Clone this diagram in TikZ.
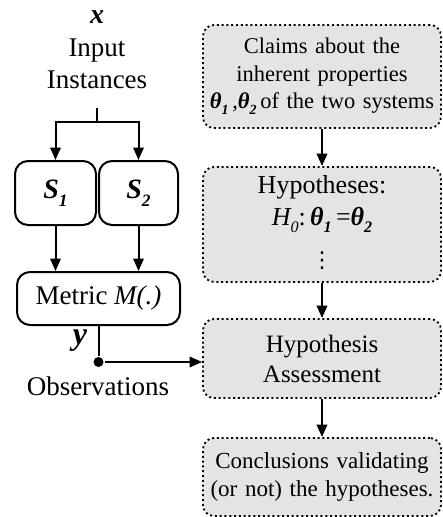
\documentclass[tikz,border=0pt]{standalone}
\usepackage{fontspec}
\setmainfont{Liberation Serif}
\newfontfamily\dejavu{DejaVu Sans}
\usetikzlibrary{arrows.meta}
\newcommand{\bfit}[1]{\textbf{\textit{#1}}}
\newcommand{\fs}[2]{\fontsize{#1}{#2}\selectfont}
\newcommand{\sub}[1]{\raisebox{-0.28em}{\fontsize{0.62em}{0.62em}\selectfont #1}}
\definecolor{boxgray}{HTML}{E4E4E4}
\begin{document}
\begin{tikzpicture}[x=1pt,y=-1pt,
  line width=2pt,
  arr/.style={-{Triangle[length=12.5pt,width=10.5pt]}},
  sysbox/.style={draw,rounded corners=13pt,fill=white,inner sep=0pt},
  hypbox/.style={draw,dash pattern=on 2pt off 2.8pt,line width=1.8pt,rounded corners=11pt,fill=boxgray,
     minimum width=238pt,inner sep=0pt,align=center,text width=236pt},
  lbl/.style={inner sep=0pt,align=center}]
\useasboundingbox (0,0) rectangle (442,517);
% left column
\node[lbl,font=\fs{28}{30}] (xlab) at (97,17) {\bfit{x}};
\node[lbl,font=\fs{27}{32}] (inp) at (97,64) {Input\\Instances};
\coordinate (stemtop) at (97,108);
\coordinate (split) at (97,122);
\node[sysbox,minimum width=81pt,minimum height=64pt,font=\fs{28}{30}] (s1) at (55.5,193) {\bfit{S\sub{1}}};
\node[sysbox,minimum width=79pt,minimum height=64pt,font=\fs{28}{30}] (s2) at (138.5,193) {\bfit{S\sub{2}}};
\node[sysbox,minimum width=163pt,minimum height=53pt,font=\fs{27}{30}] (metric) at (98.5,298.5) {Metric \textit{M(.)}};
\node[circle,fill,inner sep=0pt,minimum size=10pt] (dot) at (98.5,362) {};
\node[lbl,font=\fs{32}{32}] (ylab) at (80,341) {\bfit{y}};
\node[lbl,font=\fs{27}{30}] (obs) at (98,386) {Observations};
% right column
\node[hypbox,minimum height=103pt,font=\fs{22.5}{27.5}] (claims) at (322,76.5)
  {Claims about the\\inherent properties\\\bfit{θ\sub{1}}\,,\bfit{θ\sub{2}}\,of the two systems};
\node[hypbox,minimum height=115pt] (hyp) at (322,224.5) {};
\node[lbl,font=\fs{26}{32}] (hyptext) at (322,204) {Hypotheses:\\\textit{H\sub{0}}:\,\bfit{θ\sub{1}}\,=\bfit{θ\sub{2}}};
\node[lbl,font=\dejavu\fs{22}{22}] (hypdots) at (322,261) {⋮};
\node[hypbox,minimum height=79pt,font=\fs{25}{30}] (assess) at (322,358.5) {Hypothesis\\Assessment};
\node[hypbox,minimum height=78pt,font=\fs{23}{28}] (concl) at (322,477) {Conclusions validating\\(or not) the hypotheses.};
% connectors
\draw (stemtop) -- (split);
\draw[arr] (split) -| (s1);
\draw[arr] (split) -| (s2);
\draw[arr] (s1) -- (s1 |- metric.north);
\draw[arr] (s2) -- (s2 |- metric.north);
\draw (metric) -- (dot);
\draw[arr] (dot) -- (dot -| assess.west);
\draw[arr] (claims) -- (hyp);
\draw[arr] (hyp) -- (assess);
\draw[arr] (assess) -- (concl);
\end{tikzpicture}
\end{document}
